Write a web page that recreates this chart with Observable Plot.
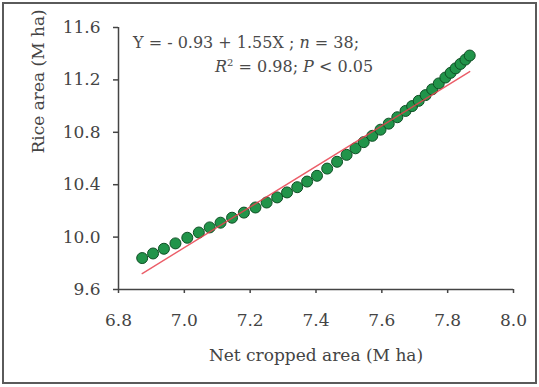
<!DOCTYPE html>
<html>
<head>
<meta charset="utf-8">
<script src="https://cdn.jsdelivr.net/npm/d3@7"></script>
<script src="https://cdn.jsdelivr.net/npm/@observablehq/plot@0.6"></script>
<style>
  html, body { margin: 0; padding: 0; background: #fff; }
  #wrap { position: relative; width: 539px; height: 387px; overflow: hidden; }
  #frame { position: absolute; left: 2px; top: 2px; width: 535px; height: 382px;
           box-sizing: border-box; border: 2px solid #5a5a5a; pointer-events: none; }
  #eq { position: absolute; font-family: "DejaVu Serif", serif; font-size: 16px; color: #4a4a4a;
        line-height: 24px; white-space: pre; }
  #eq i { font-style: italic; }
  #eq sup { font-size: 10px; vertical-align: 6px; line-height: 0; }
</style>
</head>
<body>
<div id="wrap">
  <div id="chart"></div>
  <div id="eq"></div>
  <div id="frame"></div>
</div>
<script>
// Net cropped area (M ha), one value per year
const netCropped = [
  6.872, 6.905, 6.938, 6.973, 7.009, 7.044, 7.077, 7.110, 7.145, 7.181,
  7.216, 7.250, 7.282, 7.312, 7.343, 7.373, 7.403, 7.434, 7.464, 7.493,
  7.520, 7.545, 7.571, 7.596, 7.621, 7.647, 7.672, 7.692, 7.712, 7.733,
  7.753, 7.773, 7.793, 7.809, 7.824, 7.839, 7.854, 7.867
];
// Rice area (M ha), same years
const riceArea = [
  9.840, 9.875, 9.911, 9.952, 9.995, 10.035, 10.074, 10.110, 10.148, 10.187,
  10.226, 10.264, 10.303, 10.341, 10.381, 10.424, 10.468, 10.523, 10.575, 10.628,
  10.678, 10.725, 10.773, 10.820, 10.866, 10.915, 10.963, 11.000, 11.040, 11.084,
  11.128, 11.173, 11.218, 11.254, 11.288, 11.322, 11.355, 11.386
];
// Fitted linear model Y = a + bX
const intercept = -0.93;
const slope = 1.55;
const xTicks = [6.8, 7.0, 7.2, 7.4, 7.6, 7.8, 8.0];
const yTicks = [9.6, 10.0, 10.4, 10.8, 11.2, 11.6];

const points = netCropped.map((x, i) => ({x, y: riceArea[i]}));
const xExtent = d3.extent(netCropped);
const fit = xExtent.map(x => ({x, y: intercept + slope * x}));

const axisColor = "#444";

const plot = Plot.plot({
  width: 539,
  height: 387,
  marginLeft: 118,
  marginRight: 26,
  marginTop: 27,
  marginBottom: 98,
  style: {fontFamily: "DejaVu Serif, serif", fontSize: "17px", color: "#444", background: "transparent"},
  x: {domain: [6.8, 8.0]},
  y: {domain: [9.6, 11.6]},
  marks: [
    Plot.axisX({ticks: xTicks, tickSize: 4, tickPadding: 20, tickFormat: d => d.toFixed(1),
                stroke: axisColor, strokeWidth: 1.5, label: null}),
    Plot.axisY({ticks: yTicks, tickSize: 5, tickPadding: 13, tickFormat: d => d.toFixed(1),
                stroke: axisColor, strokeWidth: 1.5, label: null}),
    Plot.ruleY([9.6], {stroke: axisColor, strokeWidth: 1.5}),
    Plot.ruleX([6.8], {stroke: axisColor, strokeWidth: 1.5}),
    Plot.dot(points, {x: "x", y: "y", r: 5.5, fill: "#21944a", stroke: "#0e4f24", strokeWidth: 1}),
    Plot.line(fit, {x: "x", y: "y", stroke: "#e8414e", strokeWidth: 1.4, strokeOpacity: 0.85}),
    Plot.text(["Net cropped area (M ha)"], {frameAnchor: "bottom", dy: 66, lineAnchor: "middle",
                fontSize: 17, fill: "#444"}),
    Plot.text(["Rice area (M ha)"], {frameAnchor: "left", dx: -80, dy: -5, rotate: -90,
                fontSize: 17, fill: "#444"})
  ]
});
document.getElementById("chart").appendChild(plot);

// Regression statistics, placed in the upper-left of the plotting frame
const eq = document.getElementById("eq");
eq.style.left = "133px";
eq.style.top = "31px";
eq.innerHTML = `Y = - ${Math.abs(intercept).toFixed(2)} + ${slope.toFixed(2)}X ; <i>n</i> = ${points.length};\n` +
  `<span style="padding-left:82px"><i>R</i><sup>2</sup> = 0.98; <i>P</i> &lt; 0.05</span>`;
</script>
</body>
</html>
